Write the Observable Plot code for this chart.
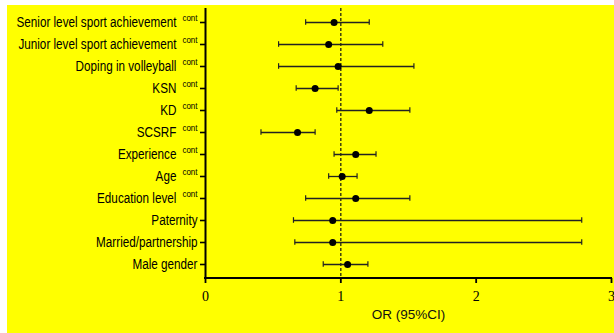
<!DOCTYPE html>
<html><head><meta charset="utf-8">
<script src="https://cdn.jsdelivr.net/npm/d3@7"></script>
<script src="https://cdn.jsdelivr.net/npm/@observablehq/plot@0.6"></script>
<style>
html,body{margin:0;padding:0;background:#fff;}
#chart{position:absolute;left:7px;top:5px;width:607px;height:328px;background:#ffff00;overflow:hidden;}
#chart svg{display:block;}
</style></head><body><div id="chart"></div>
<script>
const labels = [
  "Senior level sport achievement",
  "Junior level sport achievement",
  "Doping in volleyball",
  "KSN",
  "KD",
  "SCSRF",
  "Experience",
  "Age",
  "Education level",
  "Paternity",
  "Married/partnership",
  "Male gender"
];
const isCont = [true, true, true, true, true, true, true, true, true, false, false, false];
const oddsRatio = [0.95, 0.91, 0.98, 0.81, 1.21, 0.68, 1.11, 1.01, 1.11, 0.94, 0.94, 1.05];
const lowerCI   = [0.74, 0.54, 0.54, 0.67, 0.97, 0.41, 0.95, 0.91, 0.74, 0.65, 0.66, 0.87];
const upperCI   = [1.21, 1.31, 1.54, 0.98, 1.51, 0.81, 1.26, 1.12, 1.51, 2.78, 2.78, 1.20];
const xTicks = [0, 1, 2, 3];
const refLine = [1];
const xTitle = ["OR (95%CI)"];
const superscript = "cont";

const rows = labels.map((label, i) => ({label, or: oddsRatio[i], lo: lowerCI[i], hi: upperCI[i]}));

const bottomAxisLine = (index, scales, values, dim) => {
  const g = d3.create("svg:g");
  const y = dim.height - dim.marginBottom;
  g.append("line")
    .attr("x1", scales.x(0) - 1).attr("x2", scales.x(3) + 1)
    .attr("y1", y).attr("y2", y)
    .attr("stroke", "#000").attr("stroke-width", 2);
  return g.node();
};

const capInset = 8.2;

const plot = Plot.plot({
  width: 607, height: 328,
  marginLeft: 198, marginRight: 3, marginTop: 3, marginBottom: 55,
  style: {background: "transparent", fontFamily: "'Liberation Sans', Arial, sans-serif", fontSize: "12px", color: "#000"},
  x: {domain: [0, 3], ticks: xTicks, label: null},
  y: {type: "band", domain: labels, padding: 0, label: null},
  marks: [
    Plot.ruleX(refLine, {stroke: "#111", strokeWidth: 1.2, strokeDasharray: "3,2"}),
    Plot.link(rows, {x1: "lo", x2: "hi", y1: "label", y2: "label", stroke: "#222", strokeWidth: 1.3}),
    Plot.tickX(rows, {x: "lo", y: "label", stroke: "#222", strokeWidth: 1.2, insetTop: capInset, insetBottom: capInset}),
    Plot.tickX(rows, {x: "hi", y: "label", stroke: "#222", strokeWidth: 1.2, insetTop: capInset, insetBottom: capInset}),
    Plot.dot(rows, {x: "or", y: "label", r: 3.5, fill: "#000", stroke: "none"}),
    Plot.ruleX([0], {stroke: "#000", strokeWidth: 2}),
    bottomAxisLine,
    Plot.axisY({tickSize: 5, tickPadding: 3, strokeWidth: 1.6, label: null, fontSize: 11.7}),
    Plot.axisX({ticks: xTicks, tickFormat: d3.format("d"), tickSize: 5, tickPadding: 8, strokeWidth: 1.8, label: null, fontSize: 14}),
    Plot.text(xTitle, {text: d => d, frameAnchor: "bottom", dy: 40, fontSize: 13.5, fill: "#111"})
  ]
});

document.getElementById("chart").appendChild(plot);

// serif font for the x tick labels
const xLabelGroup = plot.querySelector('g[aria-label="x-axis tick label"]');
if (xLabelGroup) {
  xLabelGroup.setAttribute("font-family", "'Liberation Serif', 'Times New Roman', serif");
  xLabelGroup.style.fontFamily = "'Liberation Serif', 'Times New Roman', serif";
}

// Superscript "cont" and slight vertical stretch on y tick labels
const yLabelGroup = plot.querySelector('g[aria-label="y-axis tick label"]');
if (yLabelGroup) {
  yLabelGroup.querySelectorAll("text").forEach(t => {
    const name = t.textContent;
    const i = labels.indexOf(name);
    if (i >= 0 && isCont[i]) {
      const ts = document.createElementNS("http://www.w3.org/2000/svg", "tspan");
      ts.setAttribute("dx", "6");
      ts.setAttribute("dy", "-5");
      ts.setAttribute("font-size", "8px");
      ts.textContent = superscript;
      t.appendChild(ts);
    }
    const tr = t.getAttribute("transform") || "";
    t.setAttribute("transform", tr + " scale(1,1.23)");
  });
}
</script>
</body></html>
